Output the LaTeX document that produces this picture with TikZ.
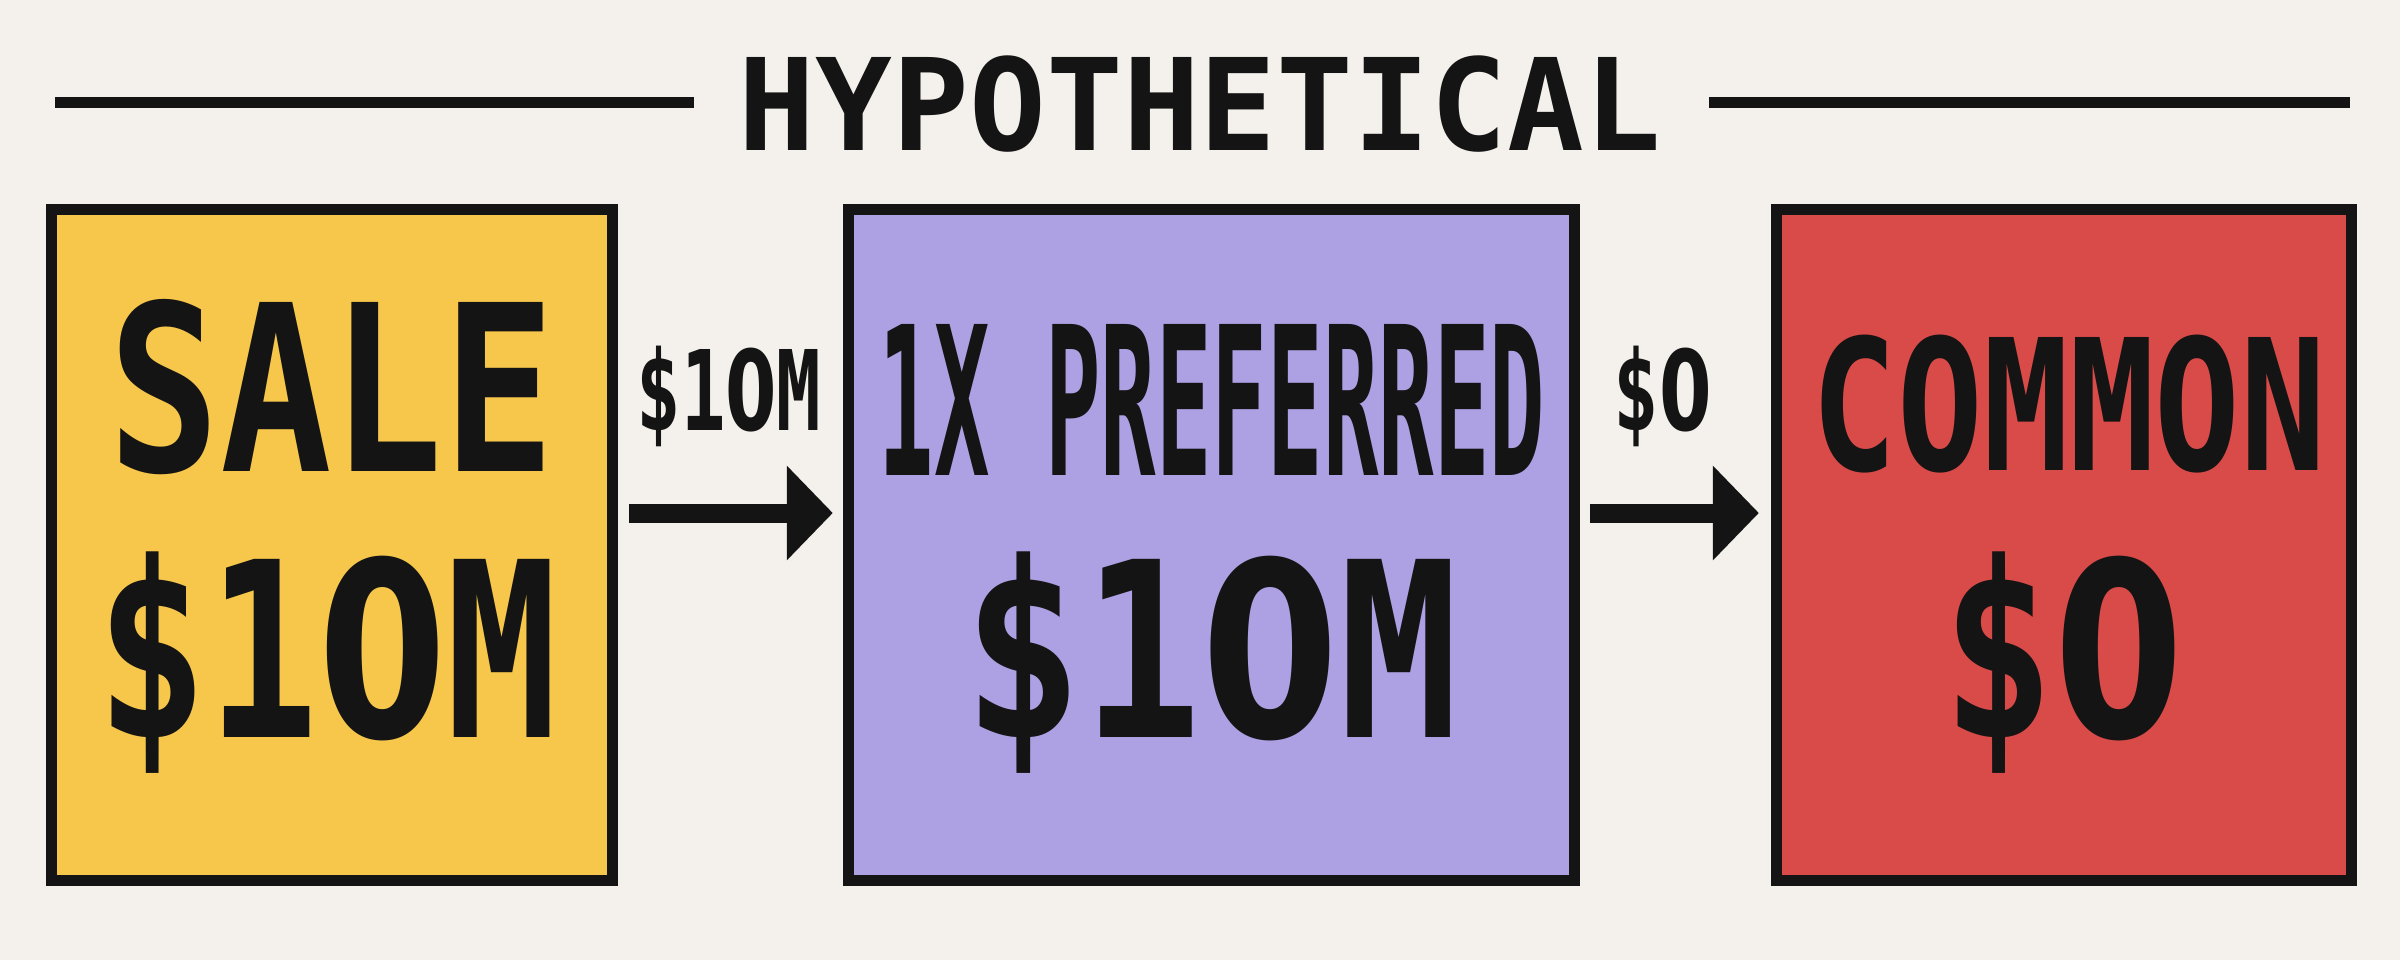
\documentclass[tikz,border=0pt]{standalone}
\usepackage{fontspec}
\newfontfamily\pix{DejaVu Sans Mono}
\newfontfamily\pixz{DejaVu Sans}
\newcommand\zro{{\pixz\bfseries 0}}
\usetikzlibrary{arrows.meta}
\definecolor{bg}{HTML}{F4F1EC}
\definecolor{ink}{HTML}{141414}
\definecolor{salec}{HTML}{F7C74B}
\definecolor{prefc}{HTML}{ADA0E3}
\definecolor{commc}{HTML}{D94B48}
\begin{document}
\begin{tikzpicture}[x=0.01cm,y=-0.01cm]
\tikzset{
  card/.style={draw=ink, line width=0.11cm, inner sep=0pt, outer sep=0pt, minimum height=6.71cm},
  txt/.style={anchor=base, inner sep=0pt, outer sep=0pt, text=ink, font=\pix\bfseries},
  flow/.style={draw=ink, line width=0.19cm, -{Triangle[length=4.6mm,width=9.2mm]}},
  rulel/.style={draw=ink, line width=0.11cm}
}
\fill[bg] (0,0) rectangle (2400,960);
\useasboundingbox (0,0) rectangle (2400,960);
% title and rules
\node[txt] (title) at (1200,150) {\fontsize{36.3pt}{40pt}\selectfont HYPOTHETICAL};
\coordinate (la) at (55,102.5);
\coordinate (lb) at (694,102.5);
\coordinate (ra) at (1709,102.5);
\coordinate (rb) at (2350,102.5);
\draw[rulel] (la) -- (lb);
\draw[rulel] (ra) -- (rb);
% boxes
\node[card, fill=salec, minimum width=5.61cm] (box1) at (332,545) {};
\node[card, fill=prefc, minimum width=7.26cm] (box2) at (1211.5,545) {};
\node[card, fill=commc, minimum width=5.75cm] (box3) at (2064,545) {};
% box texts
\node[txt] (s1) at (332,471) {\fontsize{65.96pt}{70pt}\selectfont\scalebox{0.80}[1]{SALE}};
\node[txt] (s2) at (327,737) {\fontsize{69.5pt}{72pt}\selectfont\scalebox{0.755}[1]{\$1\zro M}};
\node[txt] (p1) at (1212,475) {\fontsize{58.93pt}{62pt}\selectfont\scalebox{0.445}[1]{1X PREFERRED}};
\node[txt] (p2) at (1211,737) {\fontsize{69.5pt}{72pt}\selectfont\scalebox{0.81}[1]{\$1\zro M}};
\node[txt] (c1) at (2069,470) {\fontsize{51.9pt}{55pt}\selectfont\scalebox{0.78}[1]{COMMON}};
\node[txt] (c2) at (2063,737) {\fontsize{69.5pt}{72pt}\selectfont\scalebox{0.76}[1]{\$\zro}};
% arrows
\coordinate (ay) at (0,513);
\draw[flow, shorten <=1.65mm, shorten >=1.55mm] (box1.east |- ay) -- (box2.west |- ay);
\draw[flow, shorten <=1.55mm, shorten >=1.75mm] (box2.east |- ay) -- (box3.west |- ay);
\node[txt] (a1) at (729,430) {\fontsize{31.6pt}{34pt}\selectfont\scalebox{0.665}[1]{\$1\zro M}};
\node[txt] (a2) at (1663,430) {\fontsize{31.6pt}{34pt}\selectfont\scalebox{0.68}[1]{\$\zro}};
\end{tikzpicture}
\end{document}
